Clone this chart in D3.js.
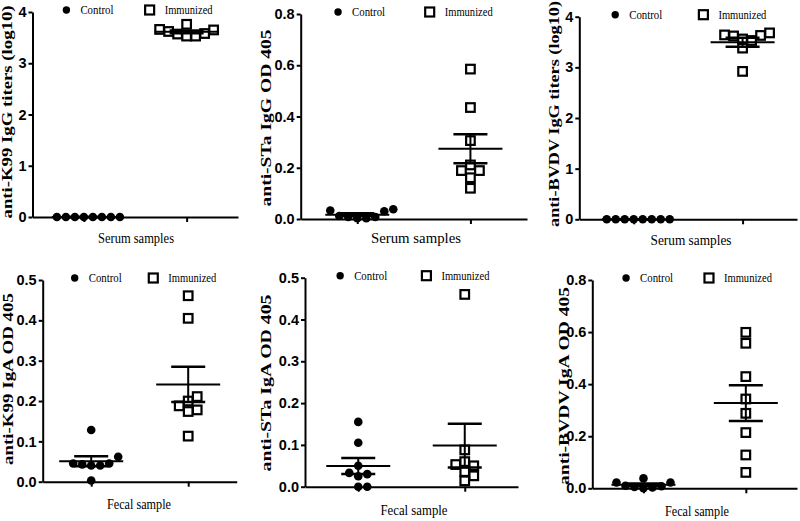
<!DOCTYPE html>
<html>
<head>
<meta charset="utf-8">
<script src="https://cdn.jsdelivr.net/npm/d3@7"></script>
<style>
  body { margin: 0; background: #fff; }
  svg { display: block; }
  .tick text { font-family: 'Liberation Sans Narrow', 'Arial Narrow', 'Liberation Sans', sans-serif; font-weight: bold; font-size: 14.5px; }
  .ytitle { font-family: 'Liberation Serif', 'Times New Roman', serif; font-weight: bold; font-size: 15px; }
  .serif { font-family: 'Liberation Serif', 'Times New Roman', serif; }
</style>
</head>
<body>
<svg id="chart" width="800" height="521"></svg>
<script>
// Groups on the x axis
const groups = ['Control', 'Immunized'];

// Serum IgG (top row)
const k99IgGControl = [0, 0, 0, 0, 0, 0, 0, 0];
const k99IgGImmunized = [3.66, 3.62, 3.57, 3.53, 3.53, 3.58, 3.65, 3.76];
const staIgGControl = [0.033, 0.012, 0.008, 0.003, 0.003, 0.008, 0.03, 0.038];
const staIgGImmunized = [0.585, 0.435, 0.306, 0.189, 0.189, 0.211, 0.161, 0.12];
const bvdvIgGControl = [0, 0, 0, 0, 0, 0, 0, 0];
const bvdvIgGImmunized = [3.64, 3.63, 3.53, 3.38, 2.92, 3.56, 3.62, 3.68];

// Fecal IgA (bottom row)
const k99IgAControl = [0.128, 0.062, 0.045, 0.04, 0.04, 0.043, 0.045, 0.003];
const k99IgAImmunized = [0.461, 0.405, 0.2, 0.178, 0.174, 0.188, 0.211, 0.113];
const staIgAControl = [0.155, 0.105, 0.05, 0.033, 0.025, 0.03, 0, 0];
const staIgAImmunized = [0.46, 0.088, 0.053, 0.06, 0.05, 0.036, 0.026, 0.014];
const bvdvIgAControl = [0.022, 0.01, 0.008, 0.003, 0, 0.005, 0.022, 0.038];
const bvdvIgAImmunized = [0.599, 0.557, 0.429, 0.343, 0.288, 0.214, 0.128, 0.061];

// Tick labels
const titerTicks = [0, 1, 2, 3, 4];
const od08Ticks = [0, 0.2, 0.4, 0.6, 0.8];
const od05Ticks = [0, 0.1, 0.2, 0.3, 0.4, 0.5];

// Panel layout: axis box, title placement
const panels = [
  {title: 'anti-K99 IgG titers (log10)', xLabel: 'Serum samples', control: k99IgGControl, immunized: k99IgGImmunized,
    ticks: titerTicks, fmt: d3.format('d'), x0: 32.5, x1: 238, top: 12, bottom: 217,
    tx: 12, ty: 112, tlen: 213, lx: 136, ly: 243, llen: 76},
  {title: 'anti-STa IgG OD 405', xLabel: 'Serum samples', control: staIgGControl, immunized: staIgGImmunized,
    ticks: od08Ticks, fmt: d3.format('.1f'), x0: 300.7, x1: 527, top: 14, bottom: 219,
    tx: 271, ty: 118, tlen: 177, lx: 416, ly: 243, llen: 90},
  {title: 'anti-BVDV IgG titers (log10)', xLabel: 'Serum samples', control: bvdvIgGControl, immunized: bvdvIgGImmunized,
    ticks: titerTicks, fmt: d3.format('d'), x0: 579.3, x1: 797, top: 16.7, bottom: 219.3,
    tx: 559, ty: 114, tlen: 226, lx: 691, ly: 245, llen: 81},
  {title: 'anti-K99 IgA OD 405', xLabel: 'Fecal sample', control: k99IgAControl, immunized: k99IgAImmunized,
    ticks: od05Ticks, fmt: d3.format('.1f'), x0: 42.7, x1: 236.7, top: 280, bottom: 481.7,
    tx: 13, ty: 379, tlen: 172, lx: 139, ly: 509, llen: 64},
  {title: 'anti-STa IgA OD 405', xLabel: 'Fecal sample', control: staIgAControl, immunized: staIgAImmunized,
    ticks: od05Ticks, fmt: d3.format('.1f'), x0: 305, x1: 518, top: 277.7, bottom: 486.7,
    tx: 271, ty: 383, tlen: 177, lx: 414, ly: 515, llen: 67},
  {title: 'anti-BVDV IgA OD 405', xLabel: 'Fecal sample', control: bvdvIgAControl, immunized: bvdvIgAImmunized,
    ticks: od08Ticks, fmt: d3.format('.1f'), x0: 592.3, x1: 797, top: 280, bottom: 488.3,
    tx: 569, ty: 386, tlen: 198, lx: 697, ly: 516, llen: 64}
];

const svg = d3.select('#chart');
svg.append('rect').attr('width', 800).attr('height', 521).attr('fill', '#fff');

const step = 9;   // spacing between neighbouring markers
const half = 4.3; // marker half size

// Spreads overlapping points sideways, lowest value first (GraphPad-like scatter)
function swarm(values, y, cx) {
  const order = values.map((v, i) => i).sort((a, b) => values[a] - values[b]);
  const placed = [];
  const out = [];
  order.forEach((i) => {
    const py = y(values[i]);
    for (let k = 0; ; k++) {
      const px = cx + (k === 0 ? 0 : (k % 2 ? 1 : -1) * Math.ceil(k / 2) * step);
      const free = placed.every((p) => Math.abs(p.x - px) >= step - 0.01 || Math.abs(p.y - py) >= step);
      if (free) {
        placed.push({x: px, y: py});
        out[i] = {x: px, y: py, v: values[i]};
        break;
      }
    }
  });
  return out;
}

function meanSem(values) {
  const m = d3.mean(values);
  const sd = d3.deviation(values) || 0;
  return {m, sem: sd / Math.sqrt(values.length)};
}

panels.forEach((p) => {
  const g = svg.append('g');
  const y = d3.scaleLinear().domain([0, d3.max(p.ticks)]).range([p.bottom, p.top]);
  const x = d3.scalePoint().domain(groups).range([p.x0, p.x1]).padding(0.5);

  // Axes
  const yAxis = g.append('g').attr('transform', `translate(${p.x0},0)`).
    call(d3.axisLeft(y).tickValues(p.ticks).tickFormat(p.fmt).tickSize(4).tickSizeOuter(0).tickPadding(2));
  const xAxis = g.append('g').attr('transform', `translate(0,${p.bottom})`).
    call(d3.axisBottom(x).tickSize(5).tickSizeOuter(0).tickFormat(''));
  [yAxis, xAxis].forEach((a) => {
    a.select('.domain').attr('stroke', '#000').attr('stroke-width', 2);
    a.selectAll('.tick line').attr('stroke', '#000').attr('stroke-width', 2);
    a.selectAll('.tick text').attr('fill', '#000');
  });

  // Points
  const ctrl = swarm(p.control, y, x('Control'));
  const imm = swarm(p.immunized, y, x('Immunized'));
  g.selectAll('.ctrl').data(ctrl).join('circle').
    attr('class', 'ctrl').
    attr('cx', (d) => d.x).attr('cy', (d) => d.y).attr('r', half).attr('fill', '#000');
  g.selectAll('.imm').data(imm).join('rect').
    attr('class', 'imm').
    attr('x', (d) => d.x - half).attr('y', (d) => d.y - half).
    attr('width', half * 2).attr('height', half * 2).
    attr('fill', '#fff').attr('stroke', '#000').attr('stroke-width', 2.2);

  // Mean with SEM bars
  [['Control', p.control], ['Immunized', p.immunized]].forEach(([name, vals]) => {
    const s = meanSem(vals);
    const cx = x(name);
    const eg = g.append('g').attr('stroke', '#000').attr('stroke-width', 2);
    eg.append('line').attr('x1', cx - 32).attr('x2', cx + 32).attr('y1', y(s.m)).attr('y2', y(s.m));
    eg.append('line').attr('x1', cx).attr('x2', cx).attr('y1', y(s.m - s.sem)).attr('y2', y(s.m + s.sem));
    [s.m - s.sem, s.m + s.sem].forEach((v) => {
      eg.append('line').attr('x1', cx - 17).attr('x2', cx + 17).attr('y1', y(v)).attr('y2', y(v)).
        attr('stroke-width', 2.5);
    });
  });

  // Legend
  const w = p.x1 - p.x0;
  const ly = p.top - 2;
  const dx = p.x0 + w * 0.165;
  const sx = p.x0 + w * 0.57;
  g.append('circle').attr('cx', dx).attr('cy', ly).attr('r', 3.7).attr('fill', '#000');
  g.append('text').attr('class', 'serif').attr('x', dx + 14).attr('y', ly + 4).
    attr('font-size', 13).attr('textLength', 33).attr('lengthAdjust', 'spacingAndGlyphs').text(groups[0]);
  g.append('rect').attr('x', sx - 4.5).attr('y', ly - 4.5).attr('width', 9).attr('height', 9).
    attr('fill', '#fff').attr('stroke', '#000').attr('stroke-width', 2.2);
  g.append('text').attr('class', 'serif').attr('x', sx + 15).attr('y', ly + 4).
    attr('font-size', 13).attr('textLength', 48).attr('lengthAdjust', 'spacingAndGlyphs').text(groups[1]);

  // Axis titles
  g.append('text').attr('class', 'ytitle').
    attr('transform', `translate(${p.tx},${p.ty}) rotate(-90)`).
    attr('text-anchor', 'middle').attr('textLength', p.tlen).attr('lengthAdjust', 'spacingAndGlyphs').
    text(p.title);
  g.append('text').attr('class', 'serif').
    attr('x', p.lx).attr('y', p.ly).attr('text-anchor', 'middle').attr('font-size', 15).
    attr('textLength', p.llen).attr('lengthAdjust', 'spacingAndGlyphs').
    text(p.xLabel);
});
</script>
</body>
</html>
